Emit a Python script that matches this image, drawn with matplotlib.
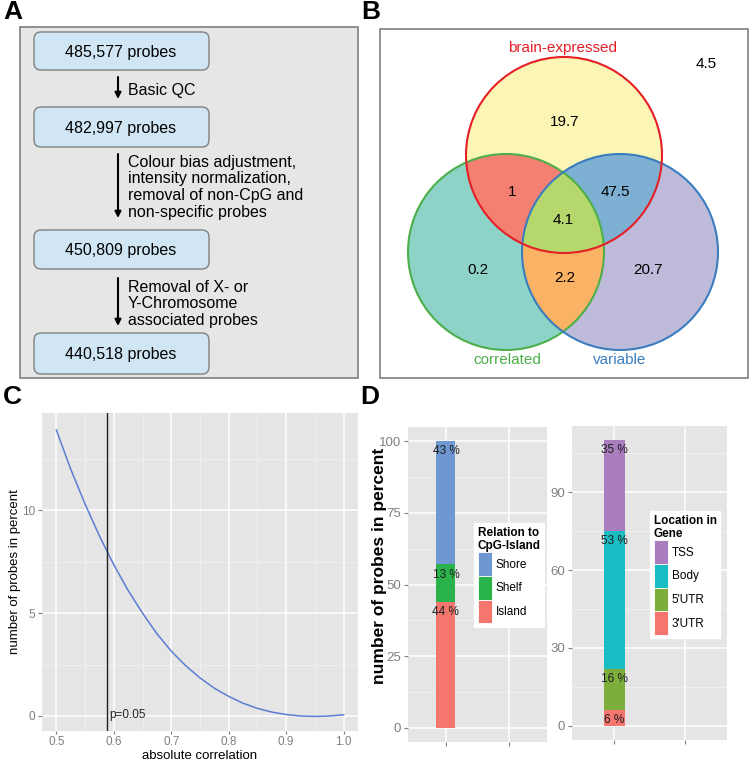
import numpy as np
import matplotlib
matplotlib.use("Agg")
import matplotlib.pyplot as plt
from matplotlib import font_manager
from matplotlib.patches import FancyBboxPatch, Rectangle, Circle, Polygon, Patch


def has_font(name):
    try:
        font_manager.findfont(name, fallback_to_default=False)
        return True
    except Exception:
        return False


SANS = "Liberation Sans" if has_font("Liberation Sans") else "DejaVu Sans"
plt.rcParams["font.family"] = [SANS, "DejaVu Sans"]

# ---- data ----
# A: filtering steps
probe_counts = ["485,577 probes", "482,997 probes", "450,809 probes", "440,518 probes"]
step_texts = [["Basic QC"],
              ["Colour bias adjustment,", "intensity normalization,",
               "removal of non-CpG and", "non-specific probes"],
              ["Removal of X- or", "Y-Chromosome", "associated probes"]]

# B: venn (percent)
venn_sets = ["brain-expressed", "correlated", "variable"]
venn_values = {"b": "19.7", "c": "0.2", "v": "20.7", "bc": "1", "bv": "47.5",
               "cv": "2.2", "bcv": "4.1"}
venn_outside = "4.5"

# C: distribution of absolute correlation
corr_x = [0.5, 0.525, 0.55, 0.575, 0.6, 0.625, 0.65, 0.675, 0.7, 0.725, 0.75,
          0.775, 0.8, 0.825, 0.85, 0.875, 0.9, 0.925, 0.95, 0.975, 1.0]
corr_pct = [13.9, 12.0, 10.3, 8.75, 7.35, 6.1, 5.0, 4.0, 3.15, 2.45, 1.85,
            1.35, 0.95, 0.62, 0.37, 0.19, 0.07, 0.0, -0.02, 0.0, 0.06]
p05_cut = 0.5886

# D: composition bars
cpg_cats = ["Island", "Shelf", "Shore"]
cpg_pct = [44, 13, 43]
gene_cats = ["3'UTR", "5'UTR", "Body", "TSS"]
gene_pct = [6, 16, 53, 35]

W, H = 750, 762
fig = plt.figure(figsize=(W / 100, H / 100), dpi=100)


def rect(x0, y0, x1, y1):
    return [x0 / W, 1 - y1 / H, (x1 - x0) / W, (y1 - y0) / H]


ax0 = fig.add_axes([0, 0, 1, 1])
ax0.set_xlim(0, W)
ax0.set_ylim(H, 0)
ax0.axis("off")

# panel letters
for lab, (lx, ly) in zip("ABCD", [(13, 12), (371, 12), (12, 397), (370, 397)]):
    ax0.text(lx, ly, lab, fontsize=19, fontweight="bold", ha="center", va="center")

# ---- A ----
ax0.add_patch(Rectangle((20, 27), 338, 351, facecolor="#E6E6E6", edgecolor="#7F7F7F", lw=1.2))
box_y = [(32, 70), (107, 147), (230, 269), (333, 374)]
for (y0, y1), txt in zip(box_y, probe_counts):
    ax0.add_patch(FancyBboxPatch((34, y0), 175, y1 - y0,
                                 boxstyle="round,pad=0,rounding_size=7",
                                 facecolor="#D1E6F4", edgecolor="#808080", lw=1))
    ax0.text(121, (y0 + y1) / 2 + 1, txt, fontsize=11.5, ha="center", va="center")

arrows = [(77, 99), (154, 218), (278, 326)]
text_tops = [90, 162, 287]
for (a0, a1), lines, t0 in zip(arrows, step_texts, text_tops):
    ax0.annotate("", xy=(118, a1), xytext=(118, a0),
                 arrowprops=dict(arrowstyle="-|>", color="black", lw=1.5,
                                 mutation_scale=9, shrinkA=0, shrinkB=0))
    for i, ln in enumerate(lines):
        ax0.text(128, t0 + i * 16.8, ln, fontsize=11.5, ha="left", va="center")

# ---- B ----
ax0.add_patch(Rectangle((380, 29), 368, 349, facecolor="white", edgecolor="#7F7F7F", lw=1.2))
R = 98
centers = {"b": (564, 155), "c": (506, 252), "v": (620, 252)}
fills = {"b": "#FBF5B6", "c": "#8DD3C7", "v": "#BEBADA", "bc": "#F48073",
         "bv": "#7EB0D3", "cv": "#FAB264", "bcv": "#B5D76C"}
edges = {"b": "#E41F26", "c": "#4DAF4A", "v": "#3A7DBE"}


def inter_poly(keys, n=720):
    t = np.linspace(0, 2 * np.pi, n, endpoint=False)
    pts = []
    for k in keys:
        cx, cy = centers[k]
        p = np.column_stack([cx + R * np.cos(t), cy + R * np.sin(t)])
        for o in keys:
            if o != k:
                ox, oy = centers[o]
                p = p[np.hypot(p[:, 0] - ox, p[:, 1] - oy) <= R + 1e-6]
        pts.append(p)
    pts = np.vstack(pts)
    m = pts.mean(axis=0)
    order = np.argsort(np.arctan2(pts[:, 1] - m[1], pts[:, 0] - m[0]))
    return pts[order]


for k in ["b", "c", "v"]:
    ax0.add_patch(Circle(centers[k], R, facecolor=fills[k], edgecolor="none"))
for k in ["bc", "bv", "cv", "bcv"]:
    ax0.add_patch(Polygon(inter_poly(list(k)), closed=True, facecolor=fills[k], edgecolor="none"))
for k in ["c", "v", "b"]:
    ax0.add_patch(Circle(centers[k], R, facecolor="none", edgecolor=edges[k], lw=1.5))

venn_pos = {"b": (565, 122), "c": (478, 270), "v": (648, 270), "bc": (512, 192),
            "bv": (615, 192), "cv": (565, 278), "bcv": (563, 220)}
for k, v in venn_values.items():
    ax0.text(*venn_pos[k], v, fontsize=11, ha="center", va="center")
ax0.text(706, 64, venn_outside, fontsize=11, ha="center", va="center")
for name, k, pos in zip(venn_sets, ["b", "c", "v"], [(563, 48), (507, 360), (620, 360)]):
    ax0.text(*pos, name, fontsize=11, color=edges[k], ha="center", va="center")


def gg_axes(ax):
    ax.set_facecolor("#E5E5E5")
    for s in ax.spines.values():
        s.set_visible(False)
    ax.grid(True, which="major", color="white", lw=1.1)
    ax.grid(True, which="minor", color="#F2F2F2", lw=0.6)
    ax.set_axisbelow(True)
    ax.tick_params(which="major", length=3, width=0.8, color="#7F7F7F",
                   labelcolor="#7F7F7F", pad=2)
    ax.tick_params(which="minor", length=0)


# ---- C ----
axc = fig.add_axes(rect(42, 413, 358, 731))
gg_axes(axc)
axc.plot(corr_x, corr_pct, color="#5B7DD3", lw=1.1)
axc.axvline(p05_cut, color="#222222", lw=1)
axc.text(p05_cut + 0.004, 0.05, "p=0.05", fontsize=8.5, color="#222222", ha="left", va="center")
axc.set_xlim(0.475, 1.025)
axc.set_ylim(-0.73, 14.73)
axc.set_xticks(np.arange(0.5, 1.01, 0.1))
axc.set_xticklabels(["0.5", "0.6", "0.7", "0.8", "0.9", "1.0"])
axc.set_xticks(np.arange(0.55, 1.0, 0.1), minor=True)
axc.set_yticks([0, 5, 10])
axc.set_yticks([2.5, 7.5, 12.5], minor=True)
axc.tick_params(labelsize=8.5)
axc.tick_params(axis="x", which="major", length=2.5, pad=1)
axc.set_xlabel("absolute correlation", fontsize=9.5)
axc.xaxis.set_label_coords(0.5, -(762 - 731) / 318)
axc.xaxis.label.set_va("bottom")
axc.set_ylabel("number of probes in percent", fontsize=9.5)
axc.yaxis.set_label_coords(-(42 - 15) / 316, 0.5)
axc.yaxis.label.set_va("center")


# ---- D ----
def stack_bar(ax, cats, vals, cols, ymax, yt, ymin_t, leg_title, leg_xy):
    gg_axes(ax)
    bottom = 0
    for c, v in zip(cats, vals):
        ax.bar(1, v, width=0.3, bottom=bottom, color=cols[c], edgecolor="none")
        ax.annotate(f"{v} %", xy=(1, bottom + v), xytext=(0, -3), textcoords="offset points",
                    ha="center", va="top", fontsize=8.5, color="#1E1E1E")
        bottom += v
    ax.set_xlim(0.4, 2.6)
    ax.set_ylim(-ymax * 0.05, ymax * 1.05)
    ax.set_xticks([1, 2])
    ax.set_xticklabels(["", ""])
    ax.set_yticks(yt)
    ax.set_yticks(ymin_t, minor=True)
    ax.tick_params(labelsize=9.5)
    handles = [Patch(facecolor=cols[c], edgecolor="white", lw=0.6) for c in cats[::-1]]
    leg = ax.legend(handles, cats[::-1], title=leg_title, loc="upper left",
                    bbox_to_anchor=(leg_xy[0] / W, 1 - leg_xy[1] / H),
                    bbox_transform=fig.transFigure, borderaxespad=0, frameon=True,
                    fancybox=False, edgecolor="white", framealpha=1,
                    prop={"size": 8.5},
                    title_fontproperties={"weight": "bold", "size": 8.5},
                    handlelength=1.25, handleheight=2.7, handletextpad=0.3,
                    labelspacing=0.0, borderpad=0.3, alignment="left")
    return leg


axd1 = fig.add_axes(rect(408, 427, 547, 742))
cpg_cols = {"Island": "#F4766E", "Shelf": "#2AB34B", "Shore": "#6F97D1"}
stack_bar(axd1, cpg_cats, cpg_pct, cpg_cols, 100, [0, 25, 50, 75, 100],
          [12.5, 37.5, 62.5, 87.5], "Relation to\nCpG-Island", (474, 523))
axd1.set_ylabel("number of probes in percent", fontsize=12.5, fontweight="bold")
axd1.yaxis.set_label_coords((379 - 408) / 139, (742 - 566) / 315)
axd1.yaxis.label.set_va("center")

axd2 = fig.add_axes(rect(572, 426, 727, 740))
gene_cols = {"3'UTR": "#F4766E", "5'UTR": "#7DAE3C", "Body": "#1ABDC3", "TSS": "#A97DBE"}
stack_bar(axd2, gene_cats, gene_pct, gene_cols, sum(gene_pct), [0, 30, 60, 90],
          [15, 45, 75, 105], "Location in\nGene", (650, 511))

fig.savefig("out.png", dpi=100)
